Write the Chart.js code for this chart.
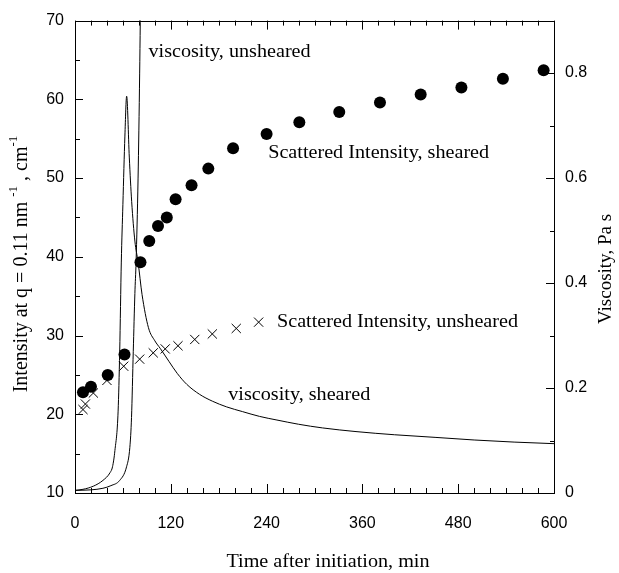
<!DOCTYPE html>
<html>
<head>
<meta charset="utf-8">
<script src="https://cdn.jsdelivr.net/npm/chart.js@4.4.0/dist/chart.umd.min.js"></script>
<style>
  html, body { margin: 0; padding: 0; background: #fff; }
  #wrap { width: 619px; height: 573px; }
</style>
</head>
<body>
<div id="wrap"><canvas id="myChart" width="619" height="573"></canvas></div>
<script>
// scattered intensity, sheared (filled circles), left axis
const timeSheared = [10, 20, 41, 62, 82, 93, 104, 115, 126, 146, 167, 198, 240, 281, 331, 382, 433, 484, 536, 587];
const intensitySheared = [22.8, 23.5, 25.0, 27.6, 39.3, 42.0, 43.9, 45.0, 47.3, 49.1, 51.2, 53.8, 55.6, 57.1, 58.4, 59.6, 60.6, 61.5, 62.6, 63.7];

// scattered intensity, unsheared (crosses), left axis
const timeUnsheared = [10, 13, 23, 40, 61, 81, 98, 113, 129, 150, 172, 202, 230];
const intensityUnsheared = [20.6, 21.3, 22.7, 24.3, 26.1, 27.0, 27.8, 28.3, 28.7, 29.5, 30.2, 30.9, 31.7];

// viscosity, sheared (line), right axis
const timeViscSheared = [0, 10, 23, 35, 44, 47, 50, 54, 56, 58, 60, 62.5, 64.7, 68, 71, 75, 79, 84, 92, 100, 107, 118, 128, 140, 156, 172, 190, 210, 231, 253, 280, 310, 352, 400, 451, 500, 550, 600];
const viscSheared = [0.005, 0.007, 0.013, 0.024, 0.039, 0.05, 0.081, 0.156, 0.27, 0.44, 0.55, 0.68, 0.756, 0.64, 0.555, 0.48, 0.44, 0.378, 0.315, 0.29, 0.275, 0.25, 0.228, 0.207, 0.188, 0.175, 0.164, 0.155, 0.146, 0.139, 0.131, 0.124, 0.117, 0.111, 0.106, 0.101, 0.097, 0.094];

// viscosity, unsheared (line), right axis
const timeViscUnsheared = [0, 20, 35, 45, 56, 64.6, 68.7, 70.8, 73, 75, 76.5, 79, 81, 82.5];
const viscUnsheared = [0.005, 0.006, 0.009, 0.014, 0.024, 0.05, 0.087, 0.144, 0.27, 0.38, 0.44, 0.6, 0.8, 1.0];

const xTicks = [0, 120, 240, 360, 480, 600];
const leftTicks = [10, 20, 30, 40, 50, 60, 70];
const rightTicks = [0, 0.2, 0.4, 0.6, 0.8];

// text labels placed in data coordinates [time, left axis value]
const notes = [
    ['viscosity, unsheared', 92, 66],
    ['Scattered Intensity, sheared', 242, 53.1],
    ['Scattered Intensity, unsheared', 253, 31.7],
    ['viscosity, sheared', 192, 22.4]
];

const serif = '"Liberation Serif", "Times New Roman", serif';
const sans = '"Liberation Sans", Arial, sans-serif';

function pts(xs, ys) {
    return xs.map((x, i) => ({ x: x, y: ys[i] }));
}

function drawRich(ctx, parts, size) {
    // parts: [text, isSuperscript]
    let total = 0;
    parts.forEach(p => {
        ctx.font = (p[1] ? size * 0.65 : size) + 'px ' + serif;
        total += ctx.measureText(p[0]).width;
    });
    let x = -total / 2;
    parts.forEach(p => {
        ctx.font = (p[1] ? size * 0.65 : size) + 'px ' + serif;
        ctx.fillText(p[0], x, p[1] ? -size * 0.42 : 0);
        x += ctx.measureText(p[0]).width;
    });
}

const decor = {
    id: 'decor',
    afterDraw(chart) {
        const ctx = chart.ctx;
        const a = chart.chartArea;
        const sx = chart.scales.x, sy = chart.scales.y, sy1 = chart.scales.y1;
        ctx.save();
        ctx.strokeStyle = '#000';
        ctx.lineWidth = 1;
        ctx.strokeRect(Math.round(a.left) + 0.5, Math.round(a.top) + 0.5, Math.round(a.right - a.left), Math.round(a.bottom - a.top));

        ctx.beginPath();
        for (let v = 0; v <= 600; v += 20) {
            const px = Math.round(sx.getPixelForValue(v)) + 0.5;
            const len = v % 120 === 0 ? 9 : 5;
            ctx.moveTo(px, a.bottom); ctx.lineTo(px, a.bottom - len);
            ctx.moveTo(px, a.top); ctx.lineTo(px, a.top + len);
        }
        for (let v = 10; v <= 70; v += 5) {
            const py = Math.round(sy.getPixelForValue(v)) + 0.5;
            const len = v % 10 === 0 ? 8 : 5;
            ctx.moveTo(a.left, py); ctx.lineTo(a.left + len, py);
        }
        for (let k = 0; k <= 9; k++) {
            const py = Math.round(sy1.getPixelForValue(k / 10)) + 0.5;
            const len = k % 2 === 0 ? 8 : 4;
            ctx.moveTo(a.right, py); ctx.lineTo(a.right - len, py);
        }
        ctx.stroke();

        ctx.fillStyle = '#000';
        ctx.textBaseline = 'middle';
        ctx.textAlign = 'left';
        notes.forEach(n => {
            let px = sx.getPixelForValue(n[1]);
            const py = sy.getPixelForValue(n[2]);
            ctx.save();
            ctx.translate(px, py);
            ctx.scale(1.12, 1);
            ctx.font = '18px ' + serif;
            ctx.fillText(n[0], 0, 0);
            ctx.restore();
        });

        // axis titles
        ctx.textAlign = 'left';
        ctx.textBaseline = 'middle';
        ctx.save();
        ctx.translate(22, 264);
        ctx.rotate(-Math.PI / 2);
        drawRich(ctx, [['Intensity at q = 0.11 nm ', false], ['-1', true], [' , cm', false], ['-1', true]], 20);
        ctx.restore();

        ctx.save();
        ctx.translate(606, 269);
        ctx.rotate(-Math.PI / 2);
        drawRich(ctx, [['Viscosity, Pa s', false]], 19);
        ctx.restore();

        ctx.save();
        ctx.translate(328, 562);
        ctx.scale(1.12, 1);
        drawRich(ctx, [['Time after initiation, min', false]], 18);
        ctx.restore();
        ctx.restore();
    }
};

const ctx = document.getElementById('myChart').getContext('2d');
let myChart = new Chart(ctx, {
    type: 'scatter',
    data: {
        datasets: [{
            label: 'Scattered Intensity, sheared',
            data: pts(timeSheared, intensitySheared),
            yAxisID: 'y',
            pointStyle: 'circle',
            pointRadius: 6,
            backgroundColor: '#000',
            borderColor: '#000',
            borderWidth: 0,
            showLine: false
        }, {
            label: 'Scattered Intensity, unsheared',
            data: pts(timeUnsheared, intensityUnsheared),
            yAxisID: 'y',
            pointStyle: 'crossRot',
            pointRadius: 6.5,
            borderColor: '#000',
            borderWidth: 1,
            showLine: false
        }, {
            label: 'viscosity, sheared',
            data: pts(timeViscSheared, viscSheared),
            yAxisID: 'y1',
            showLine: true,
            pointRadius: 0,
            borderColor: '#000',
            borderWidth: 1,
            cubicInterpolationMode: 'monotone'
        }, {
            label: 'viscosity, unsheared',
            data: pts(timeViscUnsheared, viscUnsheared),
            yAxisID: 'y1',
            showLine: true,
            pointRadius: 0,
            borderColor: '#000',
            borderWidth: 1,
            cubicInterpolationMode: 'monotone'
        }]
    },
    options: {
        responsive: false,
        animation: false,
        events: [],
        layout: { padding: { top: 18, left: 0, right: 0, bottom: 0 } },
        plugins: { legend: { display: false }, tooltip: { enabled: false } },
        scales: {
            x: {
                type: 'linear', position: 'bottom', min: 0, max: 600,
                grid: { display: false, drawTicks: false },
                border: { display: false },
                afterBuildTicks: s => { s.ticks = xTicks.map(v => ({ value: v })); },
                afterFit: s => { s.height = 80; },
                ticks: { color: '#000', padding: 21, font: { family: sans, size: 16 }, maxRotation: 0 }
            },
            y: {
                type: 'linear', position: 'left', min: 10, max: 70,
                grid: { display: false, drawTicks: false },
                border: { display: false },
                afterBuildTicks: s => { s.ticks = leftTicks.map(v => ({ value: v })); },
                afterFit: s => { s.width = 75; },
                ticks: { color: '#000', padding: 11, font: { family: sans, size: 16 } }
            },
            y1: {
                type: 'linear', position: 'right', min: 0, max: 0.9,
                grid: { display: false, drawTicks: false },
                border: { display: false },
                afterBuildTicks: s => { s.ticks = rightTicks.map(v => ({ value: v })); },
                afterFit: s => { s.width = 65; },
                ticks: { color: '#000', padding: 11, font: { family: sans, size: 16 }, callback: v => String(v) }
            }
        }
    },
    plugins: [decor]
});
</script>
</body>
</html>
